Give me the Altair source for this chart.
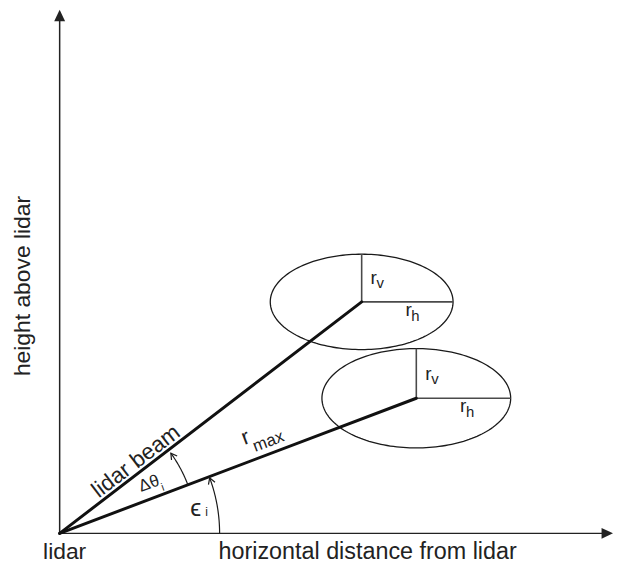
import altair as alt
import pandas as pd
import numpy as np

# ---------------- data (units: pixels relative to the lidar) ----------------
beam_names = ["lidar beam", "r_max"]
beam_end_x = [304, 359]          # beam end = ellipse centre
beam_end_y = [233, 136]
ell_rx = [92, 95]                # horizontal radius r_h
ell_ry = [48, 50]                # vertical radius r_v

axis_x_end = 557
axis_y_end = 527

arc_names = ["epsilon", "dtheta"]
arc_radius = [161, 138]
arc_start_deg = [0.0, 20.8]
arc_end_deg = [20.3, 35.8]

FONT = "Liberation Sans, Arial, DejaVu Sans"
XS = alt.Scale(domain=[-52, 558], nice=False, zero=False)
YS = alt.Scale(domain=[-31, 527], nice=False, zero=False)


def X(f="x"):
    return alt.X(f"{f}:Q", scale=XS, axis=None)


def Y(f="y"):
    return alt.Y(f"{f}:Q", scale=YS, axis=None)


# ---------------- axes ----------------
axes_df = pd.DataFrame({"x": [0, 0], "y": [0, 0],
                        "x2": [0, axis_x_end - 6], "y2": [axis_y_end - 6, 0]})
axes = alt.Chart(axes_df).mark_rule(color="#222", strokeWidth=1.5).encode(
    x=X(), y=Y(), x2="x2:Q", y2="y2:Q")

tri = "M0,0 L-0.55,1.15 L0.55,1.15 Z"
heads_df = pd.DataFrame({"x": [0, axis_x_end], "y": [axis_y_end, 0], "a": [0, 90]})
heads = alt.Chart(heads_df).mark_point(shape=tri, filled=True, size=400,
                                       color="#222", opacity=1).encode(
    x=X(), y=Y(), angle=alt.Angle("a:Q", scale=None))

# ---------------- ellipses ----------------
rows = []
t = np.linspace(0, 2 * np.pi, 181)
for i in range(2):
    for k, tt in enumerate(t):
        rows.append({"e": i, "k": k,
                     "x": beam_end_x[i] + ell_rx[i] * np.cos(tt),
                     "y": beam_end_y[i] + ell_ry[i] * np.sin(tt)})
ell_df = pd.DataFrame(rows)
ellipses = alt.Chart(ell_df).mark_line(color="#1a1a1a", strokeWidth=1.3).encode(
    x=X(), y=Y(), detail="e:N", order="k:Q")

rad_rows = []
for i in range(2):
    cx, cy = beam_end_x[i], beam_end_y[i]
    rad_rows.append({"x": cx, "y": cy, "x2": cx, "y2": cy + ell_ry[i]})
    rad_rows.append({"x": cx, "y": cy, "x2": cx + ell_rx[i], "y2": cy})
radii = alt.Chart(pd.DataFrame(rad_rows)).mark_rule(color="#4a4a4a", strokeWidth=1.6).encode(
    x=X(), y=Y(), x2="x2:Q", y2="y2:Q")

# ---------------- beams ----------------
beam_df = pd.DataFrame({"name": beam_names, "x": [0, 0], "y": [0, 0],
                        "x2": beam_end_x, "y2": beam_end_y})
beams = alt.Chart(beam_df).mark_rule(color="#111", strokeWidth=3, strokeCap="round").encode(
    x=X(), y=Y(), x2="x2:Q", y2="y2:Q")

# ---------------- angle arcs ----------------
arc_rows, tip_rows = [], []
for i in range(2):
    a = np.radians(np.linspace(arc_start_deg[i], arc_end_deg[i], 40))
    for k, aa in enumerate(a):
        arc_rows.append({"arc": arc_names[i], "k": k,
                         "x": arc_radius[i] * np.cos(aa), "y": arc_radius[i] * np.sin(aa)})
    ae = np.radians(arc_end_deg[i])
    tip_rows.append({"x": arc_radius[i] * np.cos(ae), "y": arc_radius[i] * np.sin(ae),
                     "a": 360 - arc_end_deg[i]})
arcs = alt.Chart(pd.DataFrame(arc_rows)).mark_line(color="#1a1a1a", strokeWidth=1.2).encode(
    x=X(), y=Y(), detail="arc:N", order="k:Q")
chev = "M-0.7,1.2 L0,0 L0.7,1.2"
tips = alt.Chart(pd.DataFrame(tip_rows)).mark_point(shape=chev, filled=False, size=100,
                                                    color="#1a1a1a", strokeWidth=1.2,
                                                    opacity=1).encode(
    x=X(), y=Y(), angle=alt.Angle("a:Q", scale=None))

# ---------------- labels ----------------
beam_ang_up = 360 - np.degrees(np.arctan2(beam_end_y[0], beam_end_x[0]))
beam_ang_lo = 360 - np.degrees(np.arctan2(beam_end_y[1], beam_end_x[1]))

txt_center = pd.DataFrame([
    {"x": 5, "y": -26, "t": "lidar", "s": 23, "a": 0},
    {"x": 310, "y": -26, "t": "horizontal distance from lidar", "s": 23.5, "a": 0},
    {"x": -30, "y": 249, "t": "height above lidar", "s": 23, "a": 270},
    {"x": 81, "y": 67, "t": "lidar beam", "s": 22.5, "a": beam_ang_up},
])

left_rows = [
    {"x": 186, "y": 89, "t": "r", "s": 22, "a": beam_ang_lo},
    {"x": 197, "y": 82, "t": "max", "s": 17, "a": beam_ang_lo},
]
for i in range(2):
    cx, cy = beam_end_x[i], beam_end_y[i]
    left_rows += [
        {"x": cx + 9, "y": cy + 18, "t": "r", "s": 19, "a": 0},
        {"x": cx + 15, "y": cy + 14, "t": "v", "s": 15, "a": 0},
        {"x": cx + 44, "y": cy - 14, "t": "r", "s": 19, "a": 0},
        {"x": cx + 50, "y": cy - 19, "t": "h", "s": 15, "a": 0},
    ]
txt_left = pd.DataFrame(left_rows)

txt_mid = pd.DataFrame([
    {"x": 90, "y": 50, "t": "Δθ", "s": 17, "a": 340},
    {"x": 104, "y": 46, "t": "i", "s": 11, "a": 340},
    {"x": 137, "y": 25, "t": "ϵ", "s": 25, "a": 0},
    {"x": 148, "y": 21, "t": "i", "s": 12, "a": 0},
])


def text_layer(df, align, baseline):
    return alt.Chart(df).mark_text(align=align, baseline=baseline, font=FONT,
                                   color="#222").encode(
        x=X(), y=Y(), text="t:N",
        size=alt.Size("s:Q", scale=None),
        angle=alt.Angle("a:Q", scale=None))


labels = [text_layer(txt_center, "center", "alphabetic"),
          text_layer(txt_left, "left", "alphabetic"),
          text_layer(txt_mid, "center", "middle")]

chart = alt.layer(axes, heads, ellipses, radii, beams, arcs, tips, *labels).properties(
    width=610, height=558, padding=0,
    autosize=alt.AutoSizeParams(type="none"),
    background="white",
).configure_view(stroke=None)

chart.save("out.html", embed_options={"renderer": "svg", "actions": False})
